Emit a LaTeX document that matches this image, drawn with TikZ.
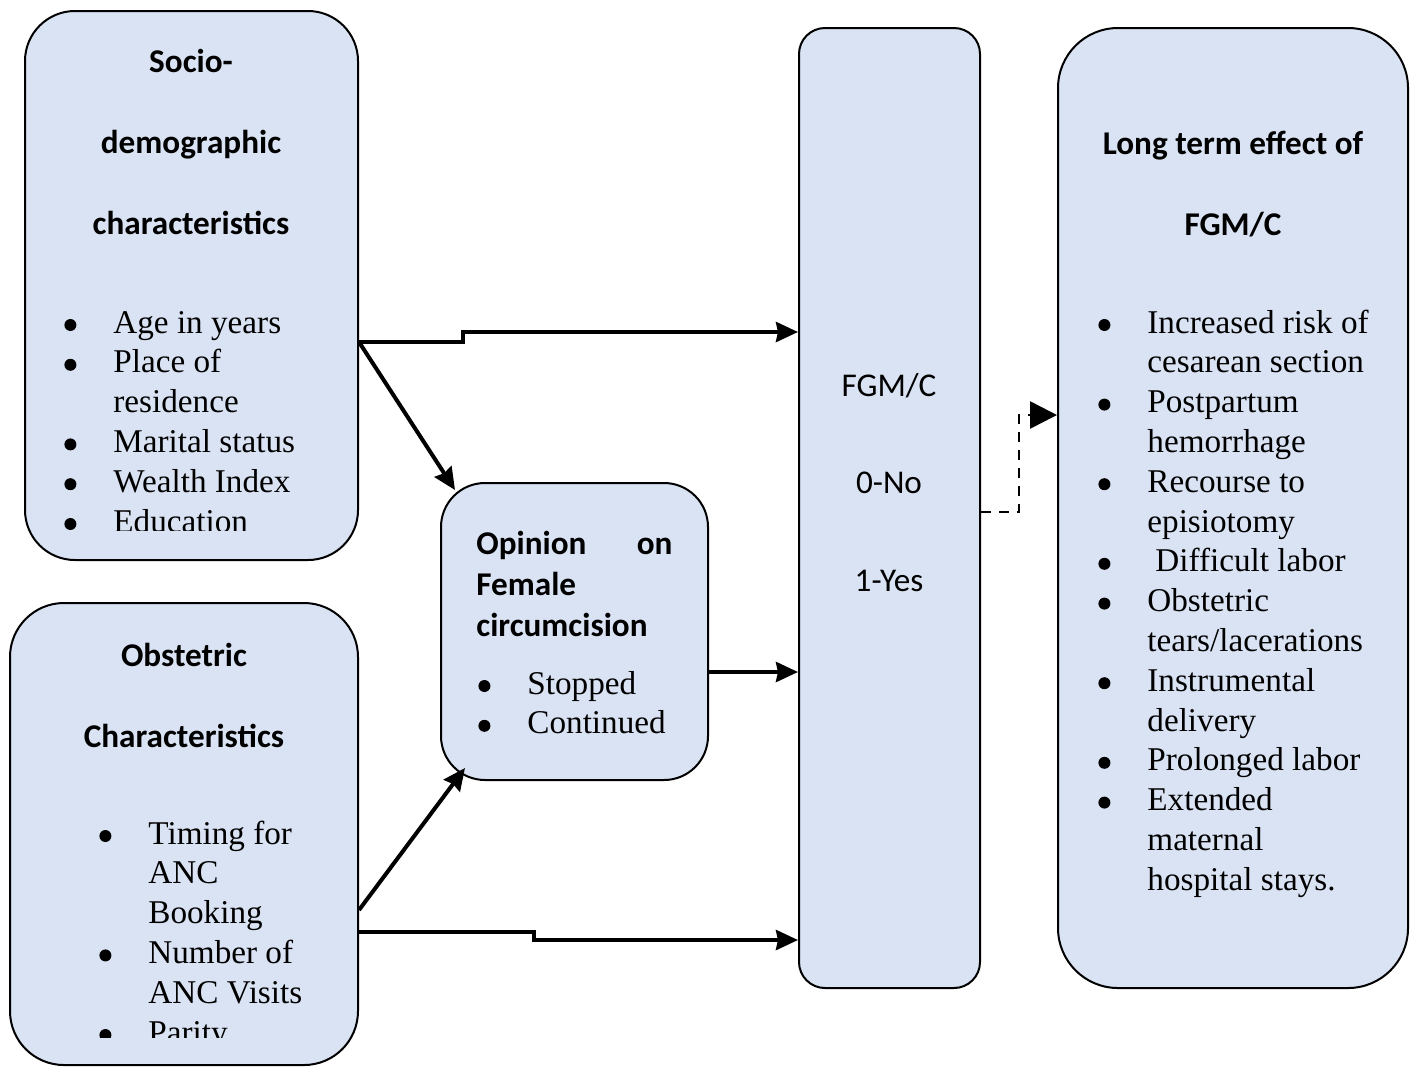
\documentclass[tikz,border=0pt]{standalone}
\usepackage{fontspec}
\setmainfont{Liberation Serif}
\newfontfamily\calibri{Carlito}
\usepackage{xcolor}
\usepackage{tikz}
\usetikzlibrary{arrows.meta, positioning}
\definecolor{panelblue}{RGB}{218,227,243}
\tikzstyle{panel} = [rectangle, draw=black, line width=1pt, fill=panelblue, inner sep=0pt]
\tikzstyle{head} = [inner sep=0pt, anchor=north, align=center, font=\calibri\bfseries\fontsize{16.6}{40.5}\selectfont]
\tikzstyle{items} = [inner sep=0pt, anchor=base west, font=\fontsize{16.6}{19.9}\selectfont]
\tikzstyle{arrow} = [line width=2pt, -{Stealth[length=11pt,width=10pt,inset=1pt]}]
\tikzstyle{dasharrow} = [line width=1.3pt, dash pattern=on 5pt off 4pt, -{Triangle[length=13.5pt,width=13.5pt]}]
\newcommand{\dotmark}{\tikz[baseline=0pt]\fill[black] (3pt,4pt) circle (3pt);}
\newcommand{\itemlist}[1]{\begin{tabular}[t]{@{}p{24.5pt}@{}l@{}}#1\end{tabular}}

\begin{document}
\begin{tikzpicture}[x=0.5pt, y=-0.5pt]
  \useasboundingbox (0,0) rectangle (1416,1067);
  % boxes
  \node (socio) [panel, rounded corners=25pt, minimum width=166.5pt, minimum height=274.5pt] at (191.5,285.5) {};
  \node (obst) [panel, rounded corners=27pt, minimum width=174pt, minimum height=231pt] at (184,834) {};
  \node (opinion) [panel, rounded corners=22pt, minimum width=133.5pt, minimum height=148.5pt] at (574.5,631.5) {};
  \node (fgm) [panel, rounded corners=13pt, minimum width=90.5pt, minimum height=480pt] at (889.5,508) {};
  \node (effect) [panel, rounded corners=30pt, minimum width=175pt, minimum height=480pt] at (1233,508) {};
  % texts
  \node (sociohead) [head] at (191,49) {Socio-\\demographic\\characteristics};
  \begin{scope}
    \clip (0,0) rectangle (1416,530);
    \node (sociolist) [items] at (64,333) {\itemlist{
      \dotmark & Age in years\\
      \dotmark & Place of\\
               & residence\\
      \dotmark & Marital status\\
      \dotmark & Wealth Index\\
      \dotmark & Education}};
  \end{scope}
  \node (obsthead) [head] at (184,643) {Obstetric\\Characteristics};
  \begin{scope}
    \clip (0,0) rectangle (1416,1037);
    \node (obstlist) [items] at (99,844) {\itemlist{
      \dotmark & Timing for\\
               & ANC\\
               & Booking\\
      \dotmark & Number of\\
               & ANC Visits\\
      \dotmark & Parity}};
  \end{scope}
  \node (opinionhead) [head, anchor=north west, align=left, text width=98pt, font=\calibri\bfseries\fontsize{16.6}{20.5}\selectfont] at (476,531) {Opinion\hfill on\\Female\\circumcision};
  \node (opinionlist) [items] at (478,694) {\itemlist{
    \dotmark & Stopped\\
    \dotmark & Continued}};
  \node (fgmtext) [head, font=\calibri\fontsize{16.6}{48.75}\selectfont] at (889,373) {FGM/C\\0-No\\1-Yes};
  \node (effecthead) [head] at (1233,131) {Long term effect of\\FGM/C};
  \node (effectlist) [items] at (1098,333) {\itemlist{
    \dotmark & Increased risk of\\
             & cesarean section\\
    \dotmark & Postpartum\\
             & hemorrhage\\
    \dotmark & Recourse to\\
             & episiotomy\\
    \dotmark & \hspace{4pt}Difficult labor\\
    \dotmark & Obstetric\\
             & tears/lacerations\\
    \dotmark & Instrumental\\
             & delivery\\
    \dotmark & Prolonged labor\\
    \dotmark & Extended\\
             & maternal\\
             & hospital stays.}};
  % connectors
  \coordinate (s1) at (socio.east |- 0,342);
  \coordinate (f1) at (fgm.west |- 0,332);
  \coordinate (o1) at (455,490);
  \coordinate (b1) at (obst.east |- 0,910);
  \coordinate (o2) at (465,768);
  \coordinate (b2) at (obst.east |- 0,932);
  \coordinate (f2) at (fgm.west |- 0,940);
  \coordinate (o3) at (opinion.east |- 0,672);
  \coordinate (f3) at (fgm.west |- 0,672);
  \coordinate (f4) at (fgm.east |- 0,512);
  \coordinate (l1) at (effect.west |- 0,415);
  \draw[arrow] (s1) -- ++(104,0) |- (f1);
  \draw[arrow] (s1) -- (o1);
  \draw[arrow] (b1) -- (o2);
  \draw[arrow] (b2) -- ++(175,0) |- (f2);
  \draw[arrow] (o3) -- (f3);
  \draw[dasharrow] (f4) -- ++(38,0) |- (l1);
\end{tikzpicture}
\end{document}
